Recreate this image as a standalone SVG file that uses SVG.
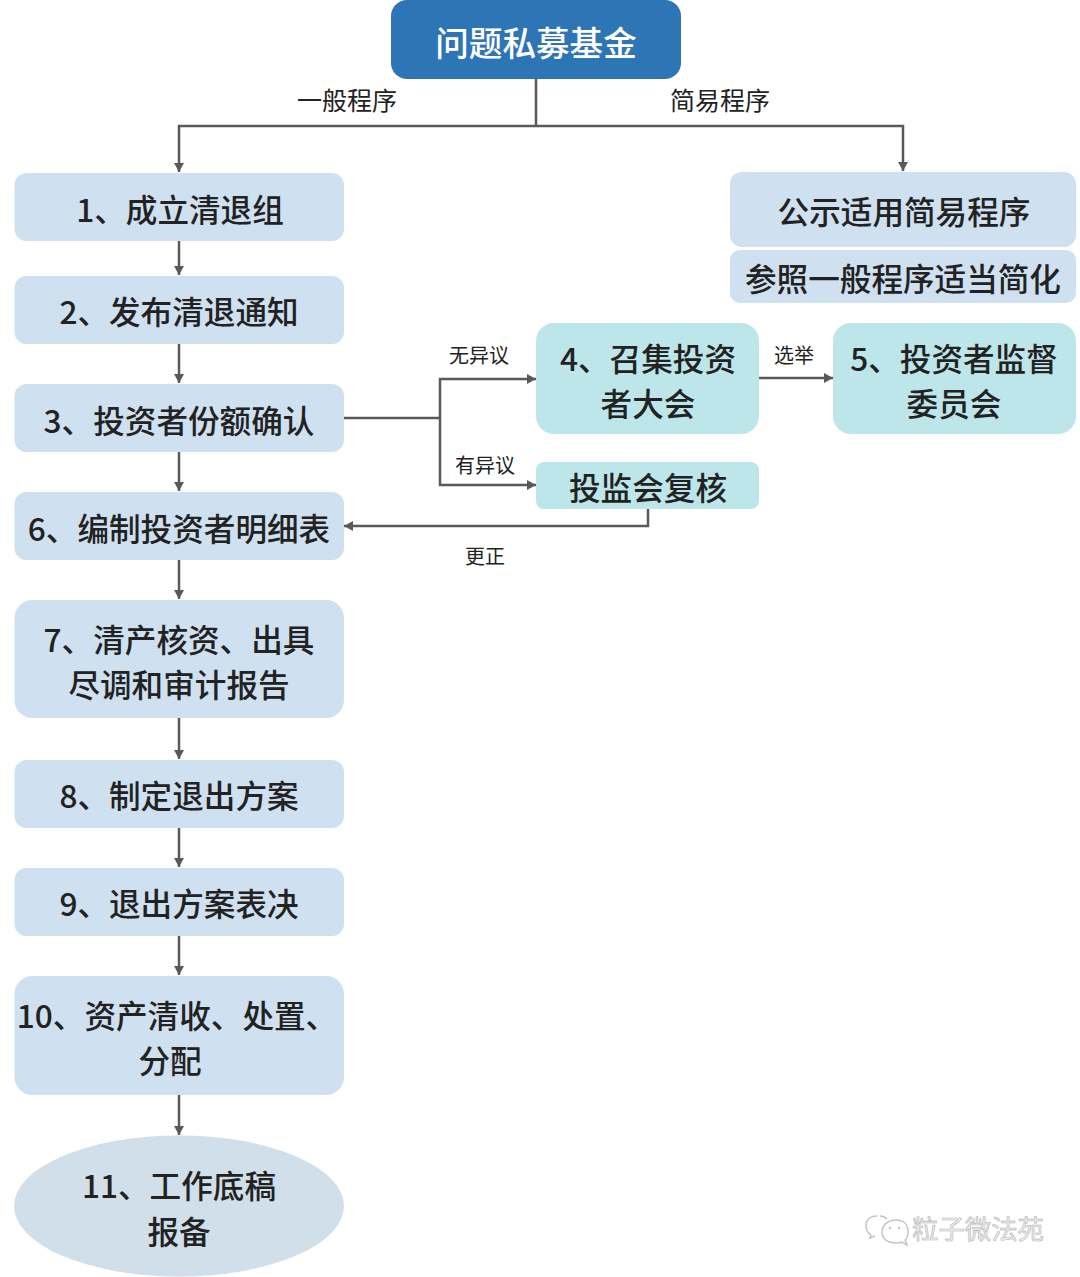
<svg xmlns="http://www.w3.org/2000/svg" width="1080" height="1277" viewBox="0 0 1080 1277">
<defs>
<marker id="a" markerUnits="userSpaceOnUse" markerWidth="9" markerHeight="10" refX="9" refY="5" orient="auto"><path d="M0 0L9 5L0 10z" fill="#595959"/></marker>
</defs>
<style>
text{font-family:"Noto Sans CJK SC","Liberation Sans",sans-serif;text-anchor:middle;fill:#222}
.n{font-size:31.6px;font-weight:500}
.l{font-size:25px}
.s{font-size:20px}
.b{fill:#cfe0f1}
.t{fill:#bce6ea}
.c{fill:none;stroke:#595959;stroke-width:2.5;marker-end:url(#a)}
.p{fill:none;stroke:#595959;stroke-width:2.5}
.w{fill:none;stroke:#c4c4c4;stroke-width:1.5}
</style>
<rect width="1080" height="1277" fill="#fff"/>
<g id="connectors">
<path class="p" d="M536 78V126"/>
<path class="c" d="M536 126H179V172"/>
<path class="c" d="M536 126H903V171"/>
<path class="c" d="M179 241V275"/>
<path class="c" d="M179 344V383"/>
<path class="c" d="M179 452V491"/>
<path class="c" d="M179 560V599"/>
<path class="c" d="M179 718V759"/>
<path class="c" d="M179 828V867"/>
<path class="c" d="M179 936V975"/>
<path class="c" d="M179 1095V1135"/>
<path class="p" d="M344 418H440"/>
<path class="c" d="M440 418V379H536"/>
<path class="c" d="M440 418V485H536"/>
<path class="c" d="M759 378H833"/>
<path class="c" d="M648 509V526H344"/>
</g>
<g id="edge-labels">
<text class="l" x="347" y="110">一般程序</text>
<text class="l" x="720" y="110">简易程序</text>
<text class="s" x="479" y="363">无异议</text>
<text class="s" x="485" y="473">有异议</text>
<text class="s" x="794" y="363">选举</text>
<text class="s" x="485" y="564">更正</text>
</g>
<g id="n0"><rect x="391" y="0" width="290" height="79" rx="16" fill="#2e75b6"/><text x="536" y="56" font-size="33.6" style="fill:#fff;font-weight:500">问题私募基金</text></g>
<g id="n1"><rect class="b" x="14.500" y="173" width="329.500" height="68" rx="12"/><text class="n" x="180" y="222">1、成立清退组</text></g>
<g id="n2"><rect class="b" x="14.500" y="276" width="329.500" height="68" rx="12"/><text class="n" x="179" y="324">2、发布清退通知</text></g>
<g id="n3"><rect class="b" x="14.500" y="384" width="329.500" height="68" rx="12"/><text class="n" x="179" y="433">3、投资者份额确认</text></g>
<g id="n6"><rect class="b" x="14.500" y="492" width="329.500" height="68" rx="12"/><text class="n" x="179" y="541">6、编制投资者明细表</text></g>
<g id="n7"><rect class="b" x="14.500" y="600" width="329.500" height="118" rx="18"/><text class="n" x="179" y="652">7、清产核资、出具</text><text class="n" x="179" y="697">尽调和审计报告</text></g>
<g id="n8"><rect class="b" x="14.500" y="760" width="329.500" height="68" rx="12"/><text class="n" x="179" y="808">8、制定退出方案</text></g>
<g id="n9"><rect class="b" x="14.500" y="868" width="329.500" height="68" rx="12"/><text class="n" x="179" y="916">9、退出方案表决</text></g>
<g id="n10"><rect class="b" x="14.500" y="976" width="329.500" height="119" rx="18"/><text class="n" x="177" y="1028">10、资产清收、处置、</text><text class="n" x="170" y="1073">分配</text></g>
<g id="n11"><ellipse cx="179" cy="1206" rx="165" ry="70.500" fill="#d0dfe9"/><text class="n" x="179" y="1198">11、工作底稿</text><text class="n" x="179" y="1244">报备</text></g>
<g id="s1"><rect class="b" x="730" y="172" width="346" height="75" rx="12"/><text class="n" x="904" y="224">公示适用简易程序</text></g>
<g id="s2"><rect class="b" x="730" y="250" width="346" height="53" rx="10"/><text class="n" x="903" y="291">参照一般程序适当简化</text></g>
<g id="n4"><rect class="t" x="536" y="323" width="223" height="111" rx="18"/><text class="n" x="648" y="371">4、召集投资</text><text class="n" x="648" y="416">者大会</text></g>
<g id="n5"><rect class="t" x="833" y="323" width="243" height="111" rx="18"/><text class="n" x="954" y="371">5、投资者监督</text><text class="n" x="954" y="416">委员会</text></g>
<g id="r"><rect class="t" x="536" y="462" width="223" height="47" rx="8"/><text class="n" x="648" y="500">投监会复核</text></g>
<g id="watermark">
<path class="w" d="M877 1216C870 1216 866 1220 866 1226C866 1230 868 1233 871 1235L870 1238L875 1236"/>
<path class="w" d="M880 1216C882 1216 885 1217 887 1219"/>
<path class="w" d="M896 1220C888 1220 882 1225 882 1232C882 1239 888 1243 896 1243C898 1243 900 1243 902 1242L907 1245L905 1240C908 1238 908 1235 908 1232C908 1225 904 1220 896 1220Z"/>
<circle cx="890" cy="1228" r="1.200" fill="#c4c4c4"/><circle cx="899" cy="1228" r="1.200" fill="#c4c4c4"/>
<text x="978" y="1239" font-size="26.400" style="fill:#eeeeee;stroke:#b4b4b4;stroke-width:.6">粒子微法苑</text>
</g>
</svg>
